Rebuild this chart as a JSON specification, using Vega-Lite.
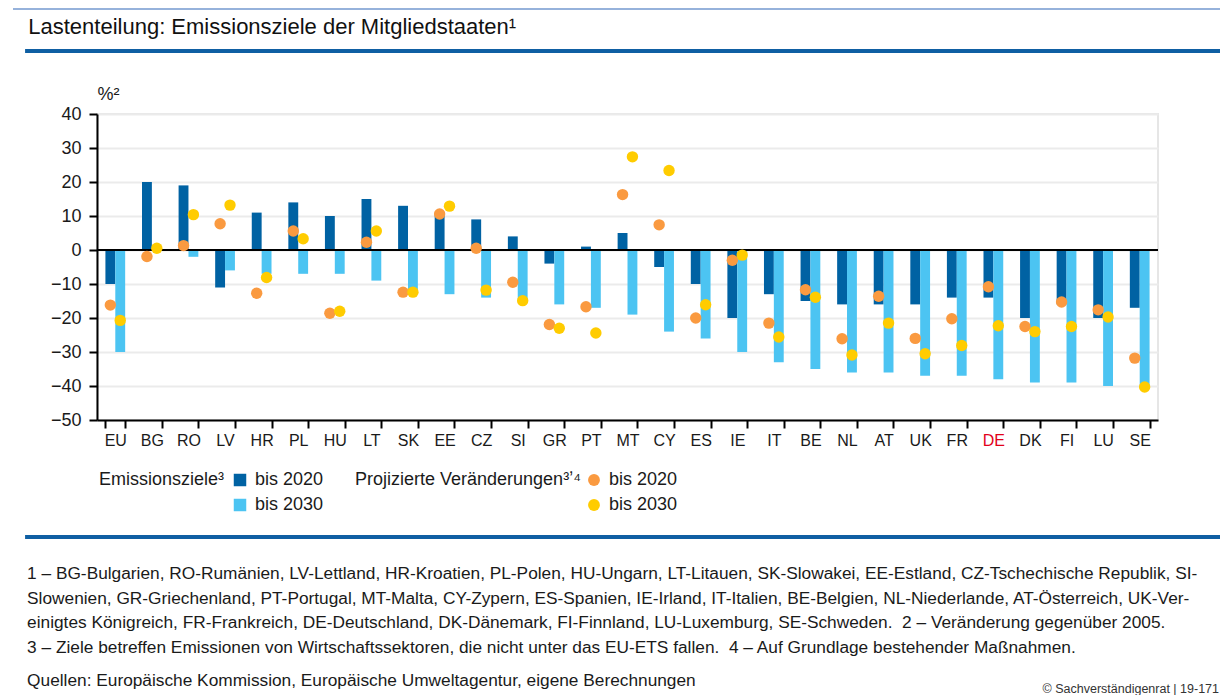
{
  "$schema": "https://vega.github.io/schema/vega-lite/v6.json",
  "padding": {"left": 12, "top": 8, "right": 0, "bottom": 0},
  "background": "white",
  "config": {"font": "Liberation Sans", "view": {"stroke": null}},
  "datasets": {
    "ziele": [
      {"land": "EU", "jahr": "bis 2020", "wert": -10}, {"land": "EU", "jahr": "bis 2030", "wert": -30},
      {"land": "BG", "jahr": "bis 2020", "wert": 20}, {"land": "BG", "jahr": "bis 2030", "wert": 0},
      {"land": "RO", "jahr": "bis 2020", "wert": 19}, {"land": "RO", "jahr": "bis 2030", "wert": -2},
      {"land": "LV", "jahr": "bis 2020", "wert": -11}, {"land": "LV", "jahr": "bis 2030", "wert": -6},
      {"land": "HR", "jahr": "bis 2020", "wert": 11}, {"land": "HR", "jahr": "bis 2030", "wert": -7},
      {"land": "PL", "jahr": "bis 2020", "wert": 14}, {"land": "PL", "jahr": "bis 2030", "wert": -7},
      {"land": "HU", "jahr": "bis 2020", "wert": 10}, {"land": "HU", "jahr": "bis 2030", "wert": -7},
      {"land": "LT", "jahr": "bis 2020", "wert": 15}, {"land": "LT", "jahr": "bis 2030", "wert": -9},
      {"land": "SK", "jahr": "bis 2020", "wert": 13}, {"land": "SK", "jahr": "bis 2030", "wert": -12},
      {"land": "EE", "jahr": "bis 2020", "wert": 11}, {"land": "EE", "jahr": "bis 2030", "wert": -13},
      {"land": "CZ", "jahr": "bis 2020", "wert": 9}, {"land": "CZ", "jahr": "bis 2030", "wert": -14},
      {"land": "SI", "jahr": "bis 2020", "wert": 4}, {"land": "SI", "jahr": "bis 2030", "wert": -15},
      {"land": "GR", "jahr": "bis 2020", "wert": -4}, {"land": "GR", "jahr": "bis 2030", "wert": -16},
      {"land": "PT", "jahr": "bis 2020", "wert": 1}, {"land": "PT", "jahr": "bis 2030", "wert": -17},
      {"land": "MT", "jahr": "bis 2020", "wert": 5}, {"land": "MT", "jahr": "bis 2030", "wert": -19},
      {"land": "CY", "jahr": "bis 2020", "wert": -5}, {"land": "CY", "jahr": "bis 2030", "wert": -24},
      {"land": "ES", "jahr": "bis 2020", "wert": -10}, {"land": "ES", "jahr": "bis 2030", "wert": -26},
      {"land": "IE", "jahr": "bis 2020", "wert": -20}, {"land": "IE", "jahr": "bis 2030", "wert": -30},
      {"land": "IT", "jahr": "bis 2020", "wert": -13}, {"land": "IT", "jahr": "bis 2030", "wert": -33},
      {"land": "BE", "jahr": "bis 2020", "wert": -15}, {"land": "BE", "jahr": "bis 2030", "wert": -35},
      {"land": "NL", "jahr": "bis 2020", "wert": -16}, {"land": "NL", "jahr": "bis 2030", "wert": -36},
      {"land": "AT", "jahr": "bis 2020", "wert": -16}, {"land": "AT", "jahr": "bis 2030", "wert": -36},
      {"land": "UK", "jahr": "bis 2020", "wert": -16}, {"land": "UK", "jahr": "bis 2030", "wert": -37},
      {"land": "FR", "jahr": "bis 2020", "wert": -14}, {"land": "FR", "jahr": "bis 2030", "wert": -37},
      {"land": "DE", "jahr": "bis 2020", "wert": -14}, {"land": "DE", "jahr": "bis 2030", "wert": -38},
      {"land": "DK", "jahr": "bis 2020", "wert": -20}, {"land": "DK", "jahr": "bis 2030", "wert": -39},
      {"land": "FI", "jahr": "bis 2020", "wert": -16}, {"land": "FI", "jahr": "bis 2030", "wert": -39},
      {"land": "LU", "jahr": "bis 2020", "wert": -20}, {"land": "LU", "jahr": "bis 2030", "wert": -40},
      {"land": "SE", "jahr": "bis 2020", "wert": -17}, {"land": "SE", "jahr": "bis 2030", "wert": -40}
    ],
    "projektionen": [
      {"land": "EU", "horizont": "bis 2020", "wert": -16.2}, {"land": "EU", "horizont": "bis 2030", "wert": -20.7},
      {"land": "BG", "horizont": "bis 2020", "wert": -1.9}, {"land": "BG", "horizont": "bis 2030", "wert": 0.5},
      {"land": "RO", "horizont": "bis 2020", "wert": 1.3}, {"land": "RO", "horizont": "bis 2030", "wert": 10.4},
      {"land": "LV", "horizont": "bis 2020", "wert": 7.7}, {"land": "LV", "horizont": "bis 2030", "wert": 13.2},
      {"land": "HR", "horizont": "bis 2020", "wert": -12.7}, {"land": "HR", "horizont": "bis 2030", "wert": -8.1},
      {"land": "PL", "horizont": "bis 2020", "wert": 5.6}, {"land": "PL", "horizont": "bis 2030", "wert": 3.3},
      {"land": "HU", "horizont": "bis 2020", "wert": -18.6}, {"land": "HU", "horizont": "bis 2030", "wert": -18},
      {"land": "LT", "horizont": "bis 2020", "wert": 2.3}, {"land": "LT", "horizont": "bis 2030", "wert": 5.6},
      {"land": "SK", "horizont": "bis 2020", "wert": -12.4}, {"land": "SK", "horizont": "bis 2030", "wert": -12.4},
      {"land": "EE", "horizont": "bis 2020", "wert": 10.6}, {"land": "EE", "horizont": "bis 2030", "wert": 12.9},
      {"land": "CZ", "horizont": "bis 2020", "wert": 0.5}, {"land": "CZ", "horizont": "bis 2030", "wert": -11.8},
      {"land": "SI", "horizont": "bis 2020", "wert": -9.5}, {"land": "SI", "horizont": "bis 2030", "wert": -14.9},
      {"land": "GR", "horizont": "bis 2020", "wert": -21.9}, {"land": "GR", "horizont": "bis 2030", "wert": -23},
      {"land": "PT", "horizont": "bis 2020", "wert": -16.7}, {"land": "PT", "horizont": "bis 2030", "wert": -24.4},
      {"land": "MT", "horizont": "bis 2020", "wert": 16.3}, {"land": "MT", "horizont": "bis 2030", "wert": 27.4},
      {"land": "CY", "horizont": "bis 2020", "wert": 7.4}, {"land": "CY", "horizont": "bis 2030", "wert": 23.4},
      {"land": "ES", "horizont": "bis 2020", "wert": -20}, {"land": "ES", "horizont": "bis 2030", "wert": -16.1},
      {"land": "IE", "horizont": "bis 2020", "wert": -3}, {"land": "IE", "horizont": "bis 2030", "wert": -1.5},
      {"land": "IT", "horizont": "bis 2020", "wert": -21.5}, {"land": "IT", "horizont": "bis 2030", "wert": -25.6},
      {"land": "BE", "horizont": "bis 2020", "wert": -11.7}, {"land": "BE", "horizont": "bis 2030", "wert": -13.9},
      {"land": "NL", "horizont": "bis 2020", "wert": -26.1}, {"land": "NL", "horizont": "bis 2030", "wert": -30.9},
      {"land": "AT", "horizont": "bis 2020", "wert": -13.6}, {"land": "AT", "horizont": "bis 2030", "wert": -21.5},
      {"land": "UK", "horizont": "bis 2020", "wert": -26}, {"land": "UK", "horizont": "bis 2030", "wert": -30.5},
      {"land": "FR", "horizont": "bis 2020", "wert": -20.2}, {"land": "FR", "horizont": "bis 2030", "wert": -28.1},
      {"land": "DE", "horizont": "bis 2020", "wert": -10.8}, {"land": "DE", "horizont": "bis 2030", "wert": -22.3},
      {"land": "DK", "horizont": "bis 2020", "wert": -22.5}, {"land": "DK", "horizont": "bis 2030", "wert": -24},
      {"land": "FI", "horizont": "bis 2020", "wert": -15.3}, {"land": "FI", "horizont": "bis 2030", "wert": -22.5},
      {"land": "LU", "horizont": "bis 2020", "wert": -17.6}, {"land": "LU", "horizont": "bis 2030", "wert": -19.7},
      {"land": "SE", "horizont": "bis 2020", "wert": -31.8}, {"land": "SE", "horizont": "bis 2030", "wert": -40.3}
    ]
  },
  "title": {"text": "© Sachverständigenrat | 19-171", "orient": "bottom", "anchor": "end", "fontSize": 12.5, "fontWeight": "normal", "color": "#333333", "offset": -6, "dx": -4},
  "spacing": 31,
  "vconcat": [
    {
      "width": 1124,
      "height": 42,
      "title": {"text": "Lastenteilung: Emissionsziele der Mitgliedstaaten¹", "anchor": "start", "orient": "top", "offset": -31, "dx": 16, "fontSize": 22, "fontWeight": "normal", "color": "#111111"},
      "data": {"values": [{}]},
      "layer": [
        {"mark": {"type": "rule", "color": "#7399cf", "strokeWidth": 1.5},
         "encoding": {"x": {"datum": 0, "type": "quantitative", "scale": {"domain": [0, 1], "range": [-84, 1124]}, "axis": null}, "x2": {"datum": 1},
                      "y": {"datum": 1, "type": "quantitative", "scale": {"domain": [0, 1]}, "axis": null}}},
        {"mark": {"type": "rule", "color": "#0f5fa3", "strokeWidth": 4},
         "encoding": {"x": {"datum": 0.01, "type": "quantitative"}, "x2": {"datum": 1},
                      "y": {"datum": 0, "type": "quantitative"}}}
      ]
    },
    {
      "spacing": 20,
      "vconcat": [
        {
          "width": 1061,
          "height": 306,
          "view": {"stroke": "#e6e6e6", "strokeWidth": 2},
          "resolve": {"scale": {"color": "independent"}, "legend": {"color": "independent"}},
          "layer": [
            {
              "data": {"name": "ziele"},
              "mark": {"type": "bar"},
              "encoding": {
                "x": {"field": "land", "type": "nominal", "sort": ["EU","BG","RO","LV","HR","PL","HU","LT","SK","EE","CZ","SI","GR","PT","MT","CY","ES","IE","IT","BE","NL","AT","UK","FR","DE","DK","FI","LU","SE"],
                  "scale": {"paddingInner": 0.46, "paddingOuter": 0.23},
                  "axis": {"title": null, "tickBand": "extent", "labelAngle": 0, "labelOverlap": false, "domainColor": "#000000", "domainWidth": 2, "tickColor": "#000000", "tickWidth": 2, "tickSize": 8, "labelFontSize": 16, "labelPadding": 4, "labelColor": {"condition": {"test": "datum.value === 'DE'", "value": "#e2001a"}, "value": "#1a1a1a"}, "grid": false}},
                "xOffset": {"field": "jahr", "type": "nominal", "scale": {"paddingInner": 0, "paddingOuter": 0}},
                "y": {"field": "wert", "type": "quantitative", "scale": {"domain": [-50, 40], "nice": false, "zero": false},
                  "axis": {"values": [-50, -40, -30, -20, -10, 0, 10, 20, 30, 40], "tickCount": 20, "labelOverlap": false, "title": "%²", "titleAngle": 0, "titleAlign": "left", "titleBaseline": "middle", "titleX": 0, "titleY": -20, "titleFontSize": 18, "titleFontWeight": "normal", "titleColor": "#1a1a1a", "labelFontSize": 18, "labelColor": "#1a1a1a", "labelPadding": 8, "tickSize": 8, "tickWidth": 2, "tickColor": "#000000", "domainColor": "#000000", "domainWidth": 2, "gridColor": "#ebebeb", "gridWidth": 2, "minExtent": 84}},
                "color": {"field": "jahr", "type": "nominal", "scale": {"domain": ["bis 2020", "bis 2030"], "range": ["#0062a3", "#4cc4f2"]},
                  "legend": {"title": "Emissionsziele³", "orient": "none", "legendX": 2, "legendY": 357, "padding": 0, "titleOrient": "left", "titleAnchor": "start", "titleLimit": 400, "titleFontSize": 18, "titleFontWeight": "normal", "titleColor": "#1a1a1a", "titlePadding": 6, "labelFontSize": 18, "labelColor": "#1a1a1a", "labelOffset": 6, "symbolType": "square", "symbolSize": 156, "symbolStrokeWidth": 0, "rowPadding": 7}}
              }
            },
            {
              "data": {"values": [{}]},
              "mark": {"type": "rule", "color": "#000000", "strokeWidth": 2},
              "encoding": {"y": {"datum": 0, "type": "quantitative"}}
            },
            {
              "data": {"name": "projektionen"},
              "mark": {"type": "circle", "size": 130, "opacity": 1},
              "encoding": {
                "x": {"field": "land", "type": "nominal", "sort": ["EU","BG","RO","LV","HR","PL","HU","LT","SK","EE","CZ","SI","GR","PT","MT","CY","ES","IE","IT","BE","NL","AT","UK","FR","DE","DK","FI","LU","SE"]},
                "xOffset": {"field": "horizont", "type": "nominal"},
                "y": {"field": "wert", "type": "quantitative"},
                "color": {"field": "horizont", "type": "nominal", "scale": {"domain": ["bis 2020", "bis 2030"], "range": ["#fa9a40", "#ffcc00"]},
                  "legend": {"title": "Projizierte Veränderungen³ʼ⁴", "orient": "none", "legendX": 258, "legendY": 357, "padding": 0, "titleOrient": "left", "titleAnchor": "start", "titleLimit": 400, "titleFontSize": 18, "titleFontWeight": "normal", "titleColor": "#1a1a1a", "titlePadding": 4, "labelFontSize": 18, "labelColor": "#1a1a1a", "labelOffset": 6, "symbolType": "circle", "symbolSize": 140, "symbolStrokeWidth": 0, "rowPadding": 7}}
              }
            }
          ]
        },
        {
          "width": 1124,
          "height": 4,
          "data": {"values": [{}]},
          "mark": {"type": "rule", "color": "#0f5fa3", "strokeWidth": 4},
          "encoding": {
            "x": {"datum": 0.01, "type": "quantitative", "scale": {"domain": [0, 1], "range": [-84, 1124]}, "axis": null}, "x2": {"datum": 1},
            "y": {"datum": 1, "type": "quantitative", "scale": {"domain": [0, 1]}, "axis": null}},
          "title": {
            "text": [
              "1 – BG-Bulgarien, RO-Rumänien, LV-Lettland, HR-Kroatien, PL-Polen, HU-Ungarn, LT-Litauen, SK-Slowakei, EE-Estland, CZ-Tschechische Republik, SI-",
              "Slowenien, GR-Griechenland, PT-Portugal, MT-Malta, CY-Zypern, ES-Spanien, IE-Irland, IT-Italien, BE-Belgien, NL-Niederlande, AT-Österreich, UK-Ver-",
              "einigtes Königreich, FR-Frankreich, DE-Deutschland, DK-Dänemark, FI-Finnland, LU-Luxemburg, SE-Schweden.\u00a0 2 – Veränderung gegenüber 2005.",
              "3 – Ziele betreffen Emissionen von Wirtschaftssektoren, die nicht unter das EU-ETS fallen.\u00a0 4 – Auf Grundlage bestehender Maßnahmen."
            ],
            "subtitle": "Quellen: Europäische Kommission, Europäische Umweltagentur, eigene Berechnungen",
            "orient": "bottom", "anchor": "start", "dx": 4, "offset": 24,
            "fontSize": 17.3, "fontWeight": "normal", "color": "#1a1a1a", "lineHeight": 24.5,
            "subtitleFontSize": 17.3, "subtitleColor": "#1a1a1a", "subtitlePadding": 16
          }
        }
      ]
    }
  ]
}
